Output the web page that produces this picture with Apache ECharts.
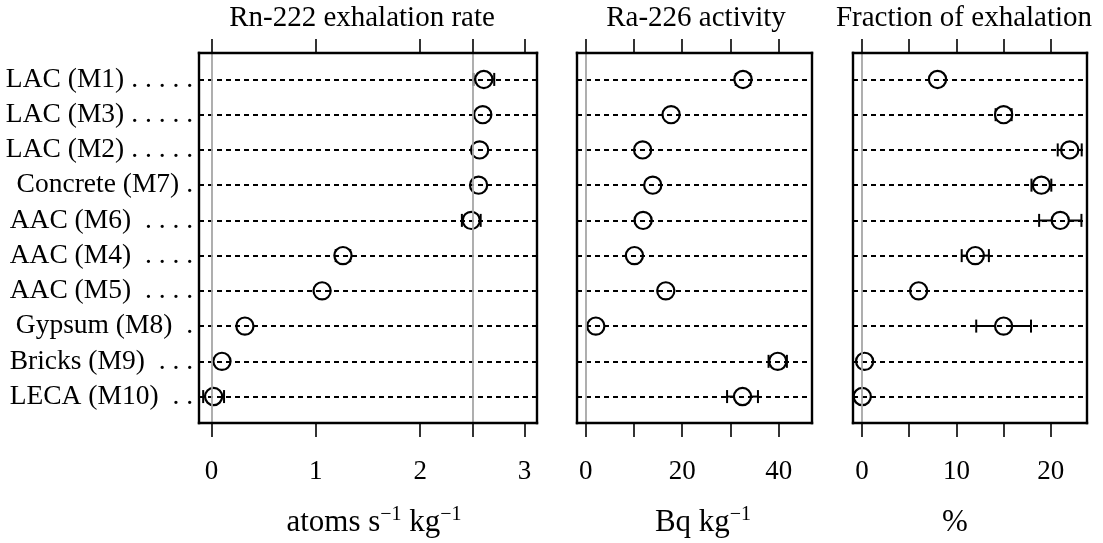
<!DOCTYPE html>
<html><head><meta charset="utf-8">
<script src="https://cdn.jsdelivr.net/npm/echarts@6/dist/echarts.min.js"></script>
<style>html,body{margin:0;padding:0;background:#fff}#c{width:1103px;height:543px}</style>
</head><body><div id="c"></div>
<script>
// ---- data ----
const categoryLabels = [
  'LAC (M1) . . . . .',
  'LAC (M3) . . . . .',
  'LAC (M2) . . . . .',
  'Concrete (M7) .',
  'AAC (M6)  . . . .',
  'AAC (M4)  . . . .',
  'AAC (M5)  . . . .',
  'Gypsum (M8)  .',
  'Bricks (M9)  . . .',
  'LECA (M10)  . .'
];
const panelTitles = ['Rn-222 exhalation rate', 'Ra-226 activity', 'Fraction of exhalation'];
// Rn-222 exhalation rate (atoms s^-1 kg^-1)
const rnRate = [2.61, 2.60, 2.57, 2.56, 2.49, 1.26, 1.06, 0.32, 0.10, 0.02];
const rnErr  = [0.10, 0.05, 0.05, 0.04, 0.09, 0.07, 0.04, 0.02, 0.02, 0.10];
// Ra-226 activity (Bq kg^-1)
const raAct = [32.6, 17.7, 11.8, 13.9, 11.9, 10.1, 16.6, 2.1, 39.8, 32.5];
const raErr = [1.5, 1.0, 0.8, 0.8, 0.8, 0.7, 1.0, 0.3, 1.9, 3.2];
// Fraction of exhalation (%)
const frac    = [8.0, 15.0, 22.0, 19.0, 21.0, 12.0, 6.0, 15.0, 0.28, 0.03];
const fracErr = [0.5, 0.85, 1.27, 1.05, 2.24, 1.44, 0.5, 2.9, 0.1, 0.05];
// axes
const rnTicks = [0, 1, 2, 2.5, 3], rnTickLabels = [0, 1, 2, 3];
const raTicks = [0, 10, 20, 30, 40], raTickLabels = [0, 20, 40];
const frTicks = [0, 5, 10, 15, 20], frTickLabels = [0, 10, 20];
const rnRefLines = [0, 2.5], raRefLines = [0], frRefLines = [0];

// ---- layout / style ----
const SERIF = 'Liberation Serif';
const rows = categoryLabels.map((_, i) => i);
const panels = [
  {vals: rnRate, errs: rnErr, ticks: rnTicks, labels: rnTickLabels, refs: rnRefLines, min: -0.12, max: 3.12,
   grid: {left: 199, right: 566, top: 53, bottom: 120}},
  {vals: raAct, errs: raErr, ticks: raTicks, labels: raTickLabels, refs: raRefLines, min: -1.8, max: 46.9,
   grid: {left: 577, right: 291, top: 53, bottom: 120}},
  {vals: frac, errs: fracErr, ticks: frTicks, labels: frTickLabels, refs: frRefLines, min: -0.95, max: 23.83,
   grid: {left: 853, right: 16, top: 53, bottom: 120}}
];

const frameLine = {show: true, onZero: false, lineStyle: {color: '#000', width: 2.4, cap: 'square'}};

function renderDot(params, api) {
  const v = api.value(0), row = api.value(1), e = api.value(2);
  const c = api.coord([v, row]);
  const lo = api.coord([v - e, row])[0];
  const hi = api.coord([v + e, row])[0];
  const R = 8.6, HALO = 13.5, CAP = 6.5;
  const black = {stroke: '#000', lineWidth: 2, fill: null};
  return {
    type: 'group',
    children: [
      {type: 'rect', shape: {x: lo - 7, y: c[1] - 5, width: (hi - lo) + 14, height: 10}, style: {fill: '#fff'}},
      {type: 'circle', shape: {cx: c[0], cy: c[1], r: HALO}, style: {fill: '#fff'}},
      {type: 'line', shape: {x1: lo, y1: c[1], x2: hi, y2: c[1]}, style: black},
      {type: 'line', shape: {x1: lo, y1: c[1] - CAP, x2: lo, y2: c[1] + CAP}, style: black},
      {type: 'line', shape: {x1: hi, y1: c[1] - CAP, x2: hi, y2: c[1] + CAP}, style: black},
      {type: 'circle', shape: {cx: c[0], cy: c[1], r: R}, style: {fill: '#fff', stroke: '#000', lineWidth: 2.2}}
    ]
  };
}

const grid = [], xAxis = [], yAxis = [], series = [];
panels.forEach((p, i) => {
  grid.push(Object.assign({containLabel: false, show: false}, p.grid));
  const xBase = {
    gridIndex: i, type: 'value', min: p.min, max: p.max, z: 10,
    axisLine: frameLine,
    axisTick: {show: true, inside: false, length: 14, customValues: p.ticks, lineStyle: {color: '#000', width: 1.6}},
    splitLine: {show: false}
  };
  xAxis.push(Object.assign({}, xBase, {
    position: 'bottom',
    axisLabel: {show: true, customValues: p.labels, margin: 35, color: '#000', fontFamily: SERIF, fontSize: 27}
  }));
  xAxis.push(Object.assign({}, xBase, {position: 'top', axisLabel: {show: false}}));
  const yBase = {
    gridIndex: i, type: 'value', inverse: true, min: -0.75, max: 9.75, z: 10,
    axisLine: frameLine, axisTick: {show: false}, splitLine: {show: false}
  };
  yAxis.push(Object.assign({}, yBase, {
    position: 'left',
    axisLabel: i === 0 ? {
      show: true, customValues: rows, margin: 6, color: '#000', fontFamily: SERIF, fontSize: 27.5,
      formatter: v => categoryLabels[Math.round(v)]
    } : {show: false}
  }));
  yAxis.push(Object.assign({}, yBase, {position: 'right', axisLabel: {show: false}}));

  // guide lines
  series.push({
    type: 'line', xAxisIndex: 2 * i, yAxisIndex: 2 * i, data: [], z: 1, silent: true,
    markLine: {
      silent: true, symbol: 'none', label: {show: false}, animation: false,
      emphasis: {disabled: true},
      data: rows.map(r => ({yAxis: r, lineStyle: {type: [5, 4], color: '#000', width: 2}}))
        .concat(p.refs.map(x => ({xAxis: x, lineStyle: {type: 'solid', color: '#a6a6a6', width: 1.8}})))
    }
  });
  // points with error bars
  series.push({
    type: 'custom', xAxisIndex: 2 * i, yAxisIndex: 2 * i, z: 3, clip: true, silent: true,
    renderItem: renderDot,
    encode: {x: 0, y: 1},
    data: p.vals.map((v, k) => [v, k, p.errs[k]])
  });
});

const unitRich = {
  b: {fontFamily: SERIF, fontSize: 31, lineHeight: 36, fill: '#000', color: '#000'},
  s: {fontFamily: SERIF, fontSize: 20, lineHeight: 16, verticalAlign: 'top', fill: '#000', color: '#000'}
};
const titleCenters = [362, 696, 964];
const unitTexts = ['{b|atoms s}{s|\u22121}{b| kg}{s|\u22121}', '{b|Bq kg}{s|\u22121}', '{b|%}'];
const unitCenters = [374, 703, 955];
const graphic = [];
panelTitles.forEach((t, i) => graphic.push({
  type: 'text', x: titleCenters[i], y: 18, silent: true,
  style: {text: t, fill: '#000', font: '29px "' + SERIF + '"', align: 'center', verticalAlign: 'middle'}
}));
unitTexts.forEach((t, i) => graphic.push({
  type: 'text', x: unitCenters[i], y: 505, silent: true,
  style: {text: t, rich: unitRich, fill: '#000', align: 'center', verticalAlign: 'top'}
}));

const chart = echarts.init(document.getElementById('c'), null, {renderer: 'canvas'});
chart.setOption({
  animation: false, backgroundColor: '#fff',
  grid, xAxis, yAxis, series, graphic
});
</script>
</body></html>
